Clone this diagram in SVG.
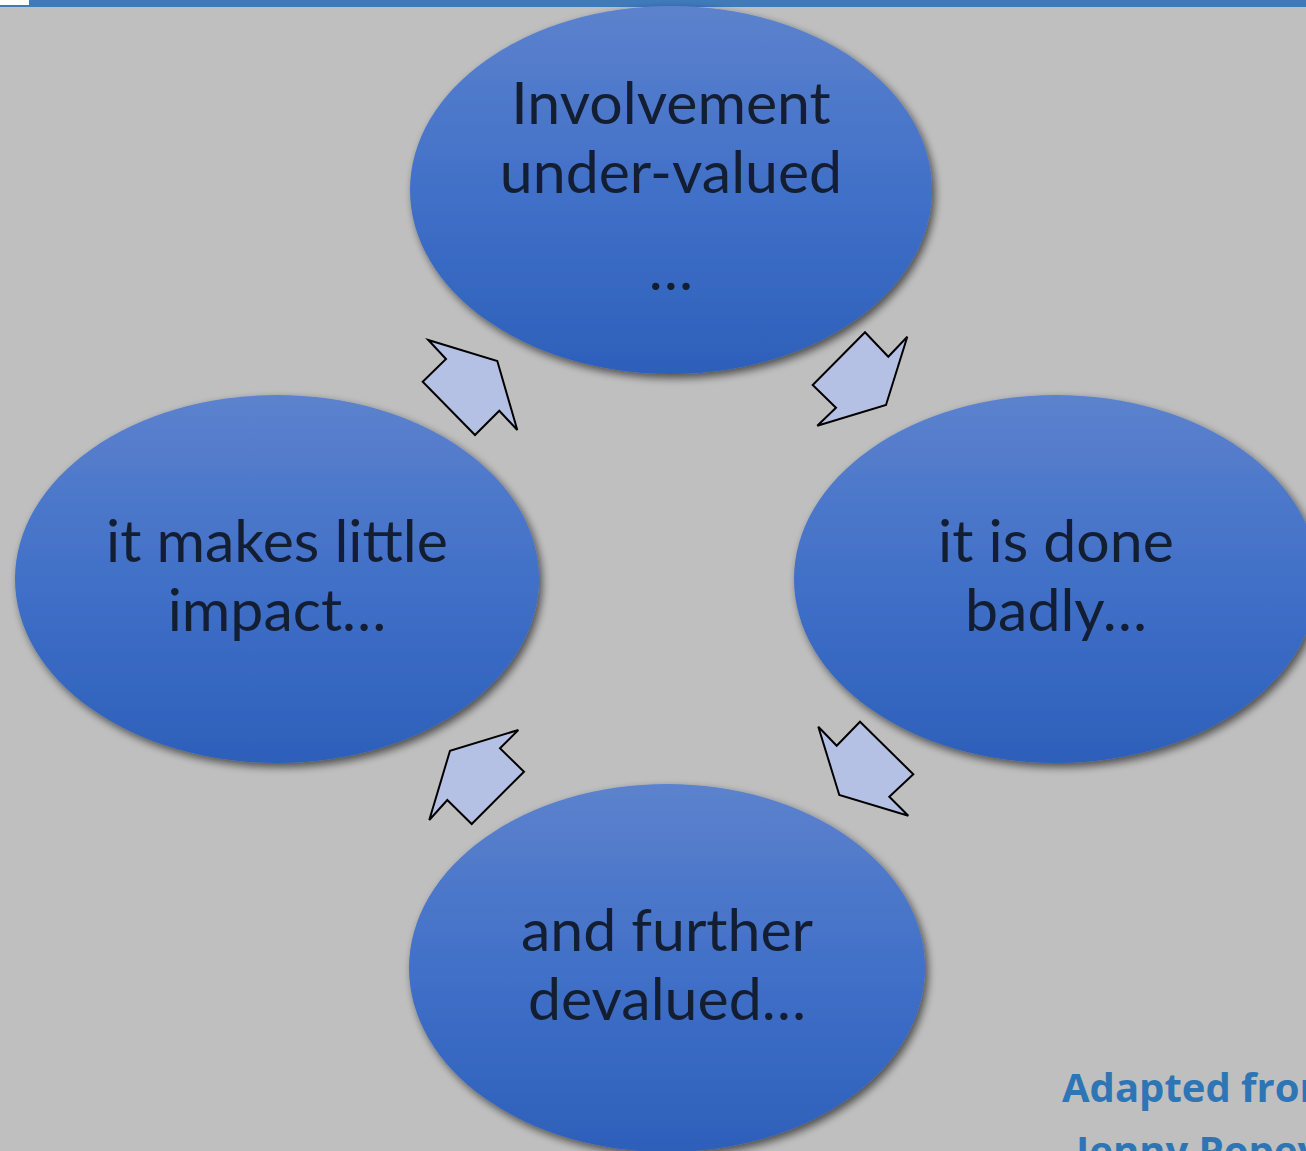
<svg xmlns="http://www.w3.org/2000/svg" width="1306" height="1151" viewBox="0 0 1306 1151">
  <style>
    .lbl { font-family: Lato, "Open Sans", "Liberation Sans", sans-serif; font-size: 59px; fill: #141E33; text-anchor: middle; }
    .arrow { fill: #B4C1E4; stroke: #000; stroke-width: 2; stroke-linejoin: miter; }
    .credit { font-family: "Open Sans", Lato, "Liberation Sans", sans-serif; font-weight: bold; font-size: 40px; fill: #2E75B6; }
  </style>
  <defs>
    <linearGradient id="ovalFill" x1="0" y1="0" x2="0" y2="1">
      <stop offset="0" stop-color="#5C82CD"/>
      <stop offset="0.5" stop-color="#4170C8"/>
      <stop offset="1" stop-color="#2D60BA"/>
    </linearGradient>
    <filter id="shadow" x="-10%" y="-10%" width="125%" height="125%">
      <feGaussianBlur in="SourceAlpha" stdDeviation="4"/>
      <feOffset dx="3" dy="4" result="b"/>
      <feComponentTransfer><feFuncA type="linear" slope="0.6"/></feComponentTransfer>
      <feMerge><feMergeNode/><feMergeNode in="SourceGraphic"/></feMerge>
    </filter>
  </defs>

  <!-- background and top band -->
  <rect x="0" y="0" width="1306" height="1151" fill="#BFBFBF"/>
  <rect x="0" y="0" width="1306" height="7" fill="#3F7ABD"/>
  <rect x="0" y="0" width="29" height="5" fill="#FFFFFF"/>

  <g id="node-top" filter="url(#shadow)">
    <ellipse cx="671" cy="190" rx="261" ry="184" fill="url(#ovalFill)"/>
  </g>
  <g id="node-top-text">
    <text class="lbl" x="671" y="124">Involvement</text>
    <text class="lbl" x="671" y="193">under-valued</text>
    <text class="lbl" x="671" y="290">…</text>
  </g>

  <g id="node-right" filter="url(#shadow)">
    <ellipse cx="1056" cy="579" rx="262" ry="184" fill="url(#ovalFill)"/>
  </g>
  <g id="node-right-text">
    <text class="lbl" x="1056" y="562">it is done</text>
    <text class="lbl" x="1056" y="631">badly…</text>
  </g>

  <g id="node-bottom" filter="url(#shadow)">
    <ellipse cx="667" cy="968" rx="258" ry="184" fill="url(#ovalFill)"/>
  </g>
  <g id="node-bottom-text">
    <text class="lbl" x="667" y="951">and further</text>
    <text class="lbl" x="667" y="1020">devalued…</text>
  </g>

  <g id="node-left" filter="url(#shadow)">
    <ellipse cx="277" cy="579" rx="262" ry="184" fill="url(#ovalFill)"/>
  </g>
  <g id="node-left-text">
    <text class="lbl" x="277" y="562">it makes little</text>
    <text class="lbl" x="277" y="631">impact…</text>
  </g>

  <!-- block arrows between the ovals -->
  <g id="connectors">
    <polygon class="arrow" points="865,332.3 888.3,356.7 907.3,336.7 886,405 817.3,425.7 836,407.7 812.7,385"/>
    <polygon class="arrow" points="818.3,726.7 836.7,745.7 860,721.7 913.3,774.3 889.3,796.7 908.3,815.7 839.3,795"/>
    <polygon class="arrow" points="518.3,730 500,748.3 524,771.7 471.7,824 447.3,800 429.3,820 450,750.7"/>
    <polygon class="arrow" points="428.3,340 497.3,361 517.3,430 499.3,410.7 475,435 422.7,381.7 446,359"/>
  </g>

  <g id="credit">
    <text class="credit" x="1062" y="1102">Adapted from</text>
    <text class="credit" x="1076" y="1165">Jenny Popey</text>
  </g>
</svg>
